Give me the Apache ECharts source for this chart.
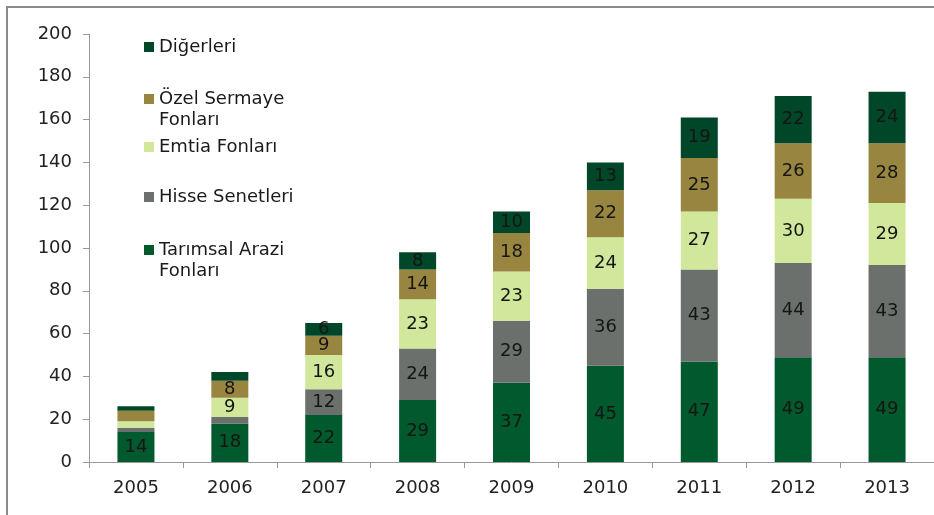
<!DOCTYPE html>
<html><head><meta charset="utf-8">
<script src="https://cdn.jsdelivr.net/npm/echarts@6/dist/echarts.min.js"></script>
<style>html,body{margin:0;padding:0;background:#fff}#c{width:934px;height:515px}</style>
</head><body><div id="c"></div>
<script>
const years = ['2005','2006','2007','2008','2009','2010','2011','2012','2013'];
const tarimsal = [14, 18, 22, 29, 37, 45, 47, 49, 49];
const hisse    = [2, 3, 12, 24, 29, 36, 43, 44, 43];
const emtia    = [3, 9, 16, 23, 23, 24, 27, 30, 29];
const ozel     = [5, 8, 9, 14, 18, 22, 25, 26, 28];
const diger    = [2, 4, 6, 8, 10, 13, 19, 22, 24];
const yTicks = [0, 20, 40, 60, 80, 100, 120, 140, 160, 180, 200];

const names = ['Tarımsal Arazi\nFonları', 'Hisse Senetleri', 'Emtia Fonları', 'Özel Sermaye\nFonları', 'Diğerleri'];
const colors = ['#005a2e', '#6b706d', '#d1e79b', '#988640', '#00472a'];
const dataSets = [tarimsal, hisse, emtia, ozel, diger];
const FONT = '"DejaVu Sans", Verdana, sans-serif';
const LH = 21;

const series = dataSets.map((d, i) => ({
  name: names[i], type: 'bar', stack: 'total', data: d, barWidth: 37,
  itemStyle: { color: colors[i] },
  label: { show: true, position: 'inside', color: '#151515', fontSize: 18, fontFamily: FONT,
    formatter: p => p.value >= 6 ? String(p.value) : '' }
}));

// legend, top to bottom: first-line centers
const legendOrder = [4, 3, 2, 1, 0];
const legendCenters = [47, 99, 147, 197, 250];
const legends = legendOrder.map((si, k) => {
  const twoLine = names[si].indexOf('\n') >= 0;
  return {
    data: [names[si]], orient: 'vertical', left: 144, padding: 0,
    top: legendCenters[k] - (twoLine ? 1.5 * LH : LH / 2),
    icon: 'rect', itemWidth: 10, itemHeight: 10, selectedMode: false,
    formatter: n => twoLine ? ' \n' + n : n,
    textStyle: { fontSize: 18, fontFamily: FONT, color: '#1a1a1a', lineHeight: LH }
  };
});

const chart = echarts.init(document.getElementById('c'));
chart.setOption({
  animation: false,
  backgroundColor: '#fff',
  graphic: [{ type: 'rect', shape: { x: 7, y: 7, width: 1000, height: 600 },
    style: { fill: 'none', stroke: '#8a8a8a', lineWidth: 2 }, silent: true }],
  legend: legends,
  grid: { left: 89, top: 34, width: 850, height: 428 },
  xAxis: { type: 'category', data: years,
    axisLine: { lineStyle: { color: '#999', width: 1 } },
    axisTick: { show: true, length: 6, alignWithLabel: false, lineStyle: { color: '#999' } },
    axisLabel: { fontSize: 18, fontFamily: FONT, color: '#222', margin: 17 } },
  yAxis: { type: 'value', min: yTicks[0], max: yTicks[yTicks.length - 1], interval: 20,
    splitLine: { show: false },
    axisLine: { show: true, lineStyle: { color: '#999', width: 1 } },
    axisTick: { show: true, length: 6, lineStyle: { color: '#999' } },
    axisLabel: { fontSize: 18, fontFamily: FONT, color: '#222', margin: 17 } },
  series: series
});
</script></body></html>
